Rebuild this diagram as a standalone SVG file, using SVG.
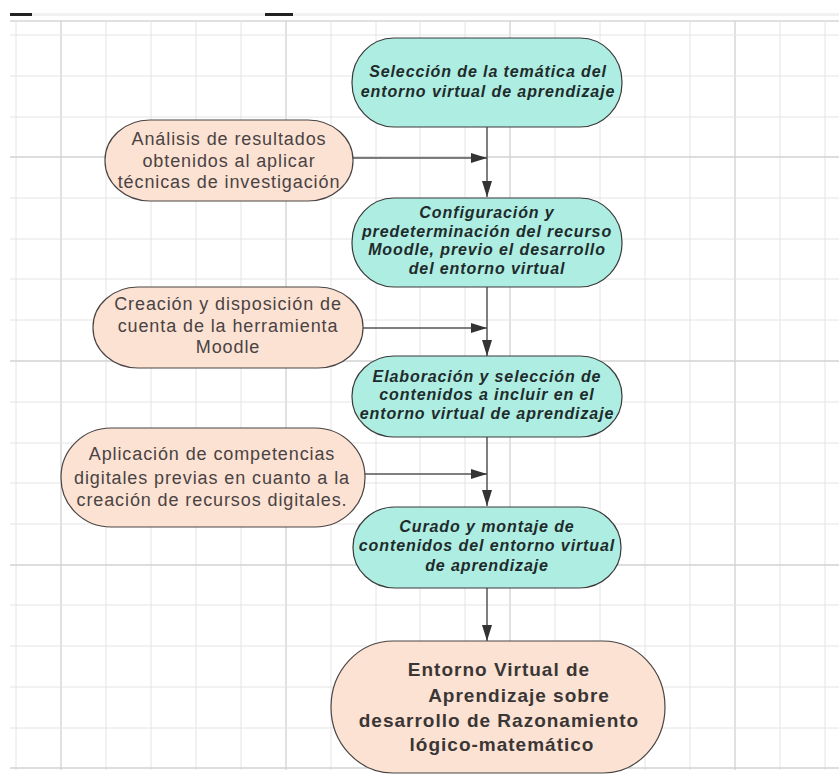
<svg xmlns="http://www.w3.org/2000/svg" width="839" height="777" viewBox="0 0 839 777">
<style>
.grid{stroke:#e4e4e4;stroke-width:1;fill:none}
.gridh{stroke:#d2d2d2;stroke-width:1.3;fill:none}
.teal{fill:#aeede2;stroke:#3a3a3a;stroke-width:1.2}
.peach{fill:#fce2d3;stroke:#4a4444;stroke-width:1.2}
.tt{font-family:"Liberation Sans",Arial,sans-serif;font-size:16px;font-weight:bold;font-style:italic;fill:#1e2b2b;text-anchor:middle;letter-spacing:0.9px}
.pt{font-family:"Liberation Sans",Arial,sans-serif;font-size:18px;fill:#4a4343;text-anchor:middle;letter-spacing:0.9px}
.ft{font-family:"Liberation Sans",Arial,sans-serif;font-size:19px;font-weight:bold;fill:#3a3636;text-anchor:middle;letter-spacing:1px}
.conn{stroke:#555;stroke-width:1.5;fill:none}
</style>
<defs>
<marker id="arr" viewBox="0 0 16 10" markerWidth="16" markerHeight="10" refX="16" refY="5" orient="auto" markerUnits="userSpaceOnUse">
<path d="M0,0 L16,5 L0,10 z" fill="#333"/>
</marker>
</defs>
<rect x="0" y="0" width="839" height="777" fill="#ffffff"/>
<g id="topbar">
<rect x="32" y="13" width="807" height="3" fill="#f1f1f1"/>
<rect x="10" y="13" width="22" height="3" fill="#222"/>
<rect x="265" y="13" width="28" height="3" fill="#222"/>
<line x1="10" y1="21" x2="839" y2="21" stroke="#d6d6d6" stroke-width="1.5"/>
</g>
<g id="grid">
<path class="grid" d="M16,21V770 M106,21V770 M151,21V770 M196,21V770 M241,21V770 M331,21V770 M376,21V770 M420,21V770 M465,21V770 M555,21V770 M600,21V770 M645,21V770 M690,21V770 M780,21V770 M825,21V770"/>
<path class="gridh" d="M61,21V770 M286,21V770 M510,21V770 M735,21V770"/>
<path class="grid" d="M10,35H839 M10,76H839 M10,117H839 M10,198H839 M10,239H839 M10,279H839 M10,320H839 M10,402H839 M10,443H839 M10,483H839 M10,524H839 M10,605H839 M10,646H839 M10,687H839 M10,728H839"/>
<path class="gridh" d="M10,157H839 M10,361H839 M10,565H839 M10,768H839"/>
</g>
<g id="connectors">
<line class="conn" x1="487" y1="127" x2="487" y2="197" marker-end="url(#arr)"/>
<line class="conn" x1="353" y1="158" x2="487" y2="158" marker-end="url(#arr)"/>
<line class="conn" x1="487" y1="287" x2="487" y2="356" marker-end="url(#arr)"/>
<line class="conn" x1="363" y1="328" x2="487" y2="328" marker-end="url(#arr)"/>
<line class="conn" x1="487" y1="437" x2="487" y2="506" marker-end="url(#arr)"/>
<line class="conn" x1="365" y1="474" x2="487" y2="474" marker-end="url(#arr)"/>
<line class="conn" x1="487" y1="588" x2="487" y2="641" marker-end="url(#arr)"/>
</g>
<g id="n1">
<rect class="teal" x="352" y="38" width="270" height="89" rx="42" ry="44"/>
<text class="tt" x="488" y="77">Selección de la temática del</text>
<text class="tt" x="488" y="97">entorno virtual de aprendizaje</text>
</g>
<g id="p1">
<rect class="peach" x="105" y="120" width="248" height="81" rx="45" ry="40"/>
<text class="pt" x="229" y="145">Análisis de resultados</text>
<text class="pt" x="229" y="167">obtenidos al aplicar</text>
<text class="pt" x="229" y="188">técnicas de investigación</text>
</g>
<g id="n2">
<rect class="teal" x="352" y="198" width="270" height="89" rx="42" ry="44"/>
<text class="tt" x="487" y="218">Configuración y</text>
<text class="tt" x="487" y="237">predeterminación del recurso</text>
<text class="tt" x="487" y="255">Moodle, previo el desarrollo</text>
<text class="tt" x="487" y="274">del entorno virtual</text>
</g>
<g id="p2">
<rect class="peach" x="93" y="287" width="270" height="81" rx="45" ry="40"/>
<text class="pt" x="228" y="310">Creación y disposición de</text>
<text class="pt" x="228" y="332">cuenta de la herramienta</text>
<text class="pt" x="228" y="353">Moodle</text>
</g>
<g id="n3">
<rect class="teal" x="352" y="356" width="270" height="81" rx="42" ry="40"/>
<text class="tt" x="487" y="382">Elaboración y selección de</text>
<text class="tt" x="487" y="400">contenidos a incluir en el</text>
<text class="tt" x="487" y="419">entorno virtual de aprendizaje</text>
</g>
<g id="p3">
<rect class="peach" x="61" y="428" width="304" height="99" rx="50" ry="49"/>
<text class="pt" x="212" y="460">Aplicación de competencias</text>
<text class="pt" x="212" y="484">digitales previas en cuanto a la</text>
<text class="pt" x="212" y="506">creación de recursos digitales.</text>
</g>
<g id="n4">
<rect class="teal" x="353" y="507" width="268" height="81" rx="42" ry="40"/>
<text class="tt" x="487" y="532">Curado y montaje de</text>
<text class="tt" x="487" y="551">contenidos del entorno virtual</text>
<text class="tt" x="487" y="571">de aprendizaje</text>
</g>
<g id="final">
<rect class="peach" x="331" y="641" width="334" height="132" rx="62" ry="66" stroke="#444"/>
<text class="ft" x="499" y="676">Entorno Virtual de</text>
<text class="ft" x="519" y="702">Aprendizaje sobre</text>
<text class="ft" x="499" y="727">desarrollo de Razonamiento</text>
<text class="ft" x="502" y="751">lógico-matemático</text>
</g>
</svg>
